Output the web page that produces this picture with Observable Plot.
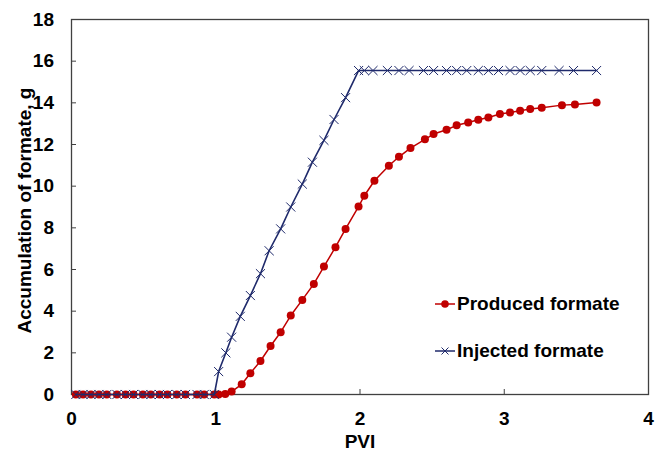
<!DOCTYPE html>
<html>
<head>
<meta charset="utf-8">
<script src="https://cdn.jsdelivr.net/npm/d3@7"></script>
<script src="https://cdn.jsdelivr.net/npm/@observablehq/plot@0.6"></script>
<style>
  html, body { margin: 0; padding: 0; background: #fff; }
  #wrap { position: relative; width: 656px; height: 450px; font-family: "Liberation Sans", Arial, sans-serif; }
  .legend { position: absolute; left: 434px; font-weight: bold; font-size: 19px; color: #000; display: flex; align-items: center; white-space: nowrap; line-height: 20px; }
  .legend svg { margin-right: 1px; }
</style>
</head>
<body>
<div id="wrap"></div>
<script>
// Injected formate
const injectedPVI = [0.03, 0.08, 0.135, 0.19, 0.245, 0.315, 0.375, 0.43, 0.495, 0.55, 0.61, 0.665, 0.73, 0.79, 0.87, 0.92, 0.99,
  1.02, 1.07, 1.11, 1.17, 1.24, 1.31, 1.37, 1.45, 1.52, 1.60, 1.67, 1.75, 1.82, 1.90, 1.99,
  2.03, 2.09, 2.19, 2.27, 2.34, 2.44, 2.51, 2.60, 2.67, 2.74, 2.82, 2.89, 2.96, 3.04, 3.11, 3.18, 3.26, 3.38, 3.48, 3.64];
const injectedValues = [0, 0, 0, 0, 0, 0, 0, 0, 0, 0, 0, 0, 0, 0, 0, 0, 0,
  1.1, 2.0, 2.75, 3.75, 4.75, 5.8, 6.9, 7.95, 9.0, 10.1, 11.15, 12.2, 13.2, 14.25, 15.55,
  15.55, 15.55, 15.55, 15.55, 15.55, 15.55, 15.55, 15.55, 15.55, 15.55, 15.55, 15.55, 15.55, 15.55, 15.55, 15.55, 15.55, 15.55, 15.55, 15.55];

// Produced formate
const producedPVI = [0.03, 0.08, 0.135, 0.19, 0.245, 0.315, 0.375, 0.43, 0.495, 0.55, 0.61, 0.665, 0.73, 0.79, 0.87, 0.92, 0.99,
  1.02, 1.066, 1.11, 1.18, 1.24, 1.31, 1.38, 1.45, 1.52, 1.60, 1.68, 1.75, 1.83, 1.90, 1.99,
  2.03, 2.10, 2.20, 2.27, 2.35, 2.45, 2.51, 2.60, 2.67, 2.75, 2.82, 2.89, 2.97, 3.04, 3.11, 3.18, 3.26, 3.40, 3.49, 3.64];
const producedValues = [0, 0, 0, 0, 0, 0, 0, 0, 0, 0, 0, 0, 0, 0, 0, 0, 0,
  0, 0.02, 0.14, 0.49, 1.02, 1.61, 2.33, 2.99, 3.79, 4.54, 5.31, 6.14, 7.07, 7.95, 9.02,
  9.54, 10.26, 10.98, 11.41, 11.83, 12.25, 12.5, 12.71, 12.92, 13.06, 13.19, 13.3, 13.46, 13.54, 13.62, 13.7, 13.76, 13.89, 13.92, 14.02];

const xTicks = [0, 1, 2, 3, 4];
const yTicks = [0, 2, 4, 6, 8, 10, 12, 14, 16, 18];
const xTitle = "PVI";
const yTitle = "Accumulation of formate, g";
const seriesNames = ["Produced formate", "Injected formate"];
const colors = ["#c00000", "#1f2a6b"];

const injected = injectedPVI.map((x, i) => ({x, y: injectedValues[i]}));
const produced = producedPVI.map((x, i) => ({x, y: producedValues[i]}));

const chart = Plot.plot({
  width: 656,
  height: 450,
  marginLeft: 71,
  marginRight: 8,
  marginTop: 19,
  marginBottom: 56,
  style: {fontFamily: "'Liberation Sans', Arial, sans-serif", fontSize: "19px", fontWeight: "bold", color: "#000", background: "#fff"},
  x: {domain: [0, 4]},
  y: {domain: [0, 18]},
  marks: [
    Plot.frame({stroke: "#404040", strokeWidth: 1.3}),
    Plot.axisX({ticks: xTicks, tickSize: -5, tickPadding: 22, stroke: "#404040", tickFormat: d => d, label: xTitle, labelAnchor: "center", labelArrow: "none", labelOffset: 53, fill: "#000", fontSize: 19}),
    Plot.axisY({ticks: yTicks, tickSize: -5, tickPadding: 22.5, stroke: "#404040", tickFormat: d => d, label: null, fill: "#000", fontSize: 19}),
    Plot.text([yTitle], {text: d => d, frameAnchor: "left", textAnchor: "middle", rotate: -90, dx: -47, dy: 3.5, fontSize: 19, fontWeight: "bold", fill: "#000"}),
    Plot.line(produced, {x: "x", y: "y", stroke: colors[0], strokeWidth: 1.5}),
    Plot.dot(produced, {x: "x", y: "y", fill: colors[0], r: 4}),
    Plot.line(injected, {x: "x", y: "y", stroke: colors[1], strokeWidth: 1.6}),
    Plot.dot(injected, {x: "x", y: "y", symbol: "times", stroke: colors[1], strokeWidth: 1, r: 4.2})
  ]
});

const wrap = document.getElementById("wrap");
wrap.appendChild(chart);

// Legend (overlaid inside the plot area)
const legendTops = [294, 341];
seriesNames.forEach((name, i) => {
  const div = document.createElement("div");
  div.className = "legend";
  div.style.top = legendTops[i] + "px";
  const sym = i === 0
    ? `<svg width="22" height="20"><line x1="1" y1="10" x2="21" y2="10" stroke="${colors[0]}" stroke-width="1.5"/><circle cx="11" cy="10" r="3.8" fill="${colors[0]}"/></svg>`
    : `<svg width="22" height="20"><line x1="1" y1="10" x2="21" y2="10" stroke="${colors[1]}" stroke-width="1.5"/><path d="M7.5,6.5L14.5,13.5M7.5,13.5L14.5,6.5" stroke="${colors[1]}" stroke-width="1"/></svg>`;
  div.innerHTML = sym + `<span>${name}</span>`;
  wrap.appendChild(div);
});
</script>
</body>
</html>
